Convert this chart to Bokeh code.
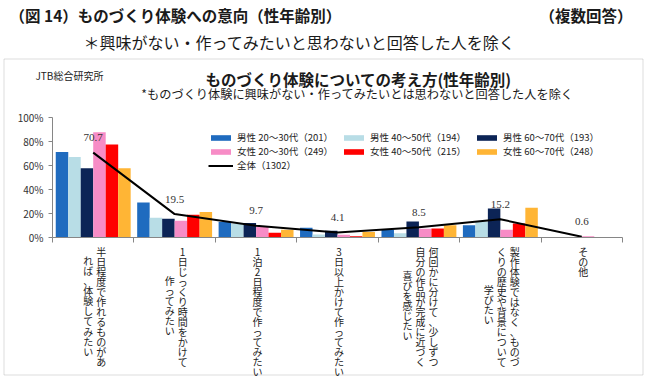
from bokeh.plotting import figure
from bokeh.models import (ColumnDataSource, Range1d, FixedTicker, PrintfTickFormatter,
                          Label, LabelSet, Legend, LegendItem, PolyAnnotation)
from bokeh.transform import dodge
from bokeh.embed import file_html
from bokeh.resources import INLINE
import numpy as np

# ---------------- data ----------------
categories = [
    "半日程度で作れるものがあれば、体験してみたい",
    "1日じっくり時間をかけて作ってみたい",
    "1泊2日程度で作ってみたい",
    "3日以上かけて作ってみたい",
    "何回かに分けて、少しずつ自分の作品が完成に近づく喜びを感じたい",
    "製作体験ではなく、ものづくりの歴史や背景について学びたい",
    "その他",
]
category_columns = [
    ["半日程度で作れるものがあ", "れば、体験してみたい"],
    ["1日じっくり時間をかけて", "作ってみたい"],
    ["1泊2日程度で作ってみたい"],
    ["3日以上かけて作ってみたい"],
    ["何回かに分けて、少しずつ", "自分の作品が完成に近づく", "喜びを感じたい"],
    ["製作体験ではなく、ものづ", "くりの歴史や背景について", "学びたい"],
    ["その他"],
]
series_names = [
    "男性 20～30代（201）", "男性 40～50代（194）", "男性 60～70代（193）",
    "女性 20～30代（249）", "女性 40～50代（215）", "女性 60～70代（248）",
]
series_colors = ["#1F6BBF", "#B8DDE6", "#0C2456", "#F78CC6", "#FF0000", "#FFB535"]
male_20_30 = [71.3, 29.2, 13.0, 8.1, 6.4, 10.3, 0.0]
male_40_50 = [67.1, 16.4, 11.5, 2.5, 3.6, 13.4, 0.0]
male_60_70 = [57.7, 15.6, 12.0, 5.6, 13.4, 24.2, 0.0]
female_20_30 = [87.7, 13.9, 9.0, 2.2, 7.2, 6.4, 1.0]
female_40_50 = [77.4, 18.9, 4.0, 1.1, 7.5, 11.7, 0.0]
female_60_70 = [57.7, 21.2, 6.5, 4.5, 10.3, 24.8, 0.0]
total_name = "全体（1302）"
total = [70.7, 19.5, 9.7, 4.1, 8.5, 15.2, 0.6]
y_ticks = [0, 20, 40, 60, 80, 100]

series_values = [male_20_30, male_40_50, male_60_70, female_20_30, female_40_50, female_60_70]

FONT = "Noto Sans CJK JP"

# ---------------- geometry (page pixels) ----------------
W, H = 648, 378
AX_L, AX_R, AX_T, AX_B = 52, 622, 117, 237   # plotting area of the axes
n = len(categories)
UX = (AX_R - AX_L) / n      # px per category
UY = (AX_B - AX_T) / 100    # px per percent


def xd(px):
    return (px - AX_L) / UX


def yd(py):
    return (AX_B - py) / UY


x_centers = np.arange(n) + 0.5
data = dict(x=x_centers, total=total, total_lbl=[f"{v:.1f}" for v in total])
for i, vals in enumerate(series_values):
    data[f"s{i}"] = vals
src = ColumnDataSource(data)

p = figure(width=W, height=H,
           x_range=Range1d(xd(0), xd(W)), y_range=Range1d(yd(H), yd(0)),
           output_backend="svg", toolbar_location=None,
           min_border=0, min_border_left=0, min_border_right=0,
           min_border_top=0, min_border_bottom=0)
p.outline_line_color = None
p.xgrid.visible = False
p.ygrid.visible = False
p.background_fill_color = "white"
p.border_fill_color = "white"

group_w = 0.92
bw = group_w / len(series_values)
renderers = []
for i, (name, color) in enumerate(zip(series_names, series_colors)):
    off = (i - (len(series_values) - 1) / 2) * bw
    r = p.vbar(x=dodge("x", off, range=p.x_range), top=f"s{i}", width=bw, source=src,
               fill_color=color, line_color=None)
    renderers.append(r)

line_r = p.line(x="x", y="total", source=src, line_color="black", line_width=2)
p.add_layout(LabelSet(x="x", y="total", text="total_lbl", source=src, y_offset=15,
                      text_align="center", text_baseline="middle",
                      text_font=FONT, text_font_size="11px", text_color="#333333"))

# axes, pinned at the data origin
p.xaxis.fixed_location = 0
p.xaxis.bounds = (0, n)
p.xaxis.ticker = FixedTicker(ticks=list(range(n + 1)))
p.xaxis.major_label_overrides = {i: "" for i in range(n + 1)}
p.xaxis.axis_line_color = "#868686"
p.xaxis.major_tick_line_color = "#868686"
p.xaxis.major_tick_out = 5
p.xaxis.major_tick_in = 0
p.xaxis.minor_tick_line_color = None

p.yaxis.fixed_location = 0
p.yaxis.bounds = (0, 100)
p.yaxis.ticker = FixedTicker(ticks=y_ticks)
p.yaxis.formatter = PrintfTickFormatter(format="%d%%")
p.yaxis.axis_line_color = "#868686"
p.yaxis.major_tick_line_color = "#868686"
p.yaxis.major_tick_out = 4
p.yaxis.major_tick_in = 0
p.yaxis.minor_tick_line_color = None
p.yaxis.major_label_text_font = FONT
p.yaxis.major_label_text_font_size = "10px"
p.yaxis.major_label_text_color = "#333333"
p.yaxis.major_label_standoff = 5

# category labels (vertical writing, columns right to left, centred on each other)
LH = 9.7
for i, cols in enumerate(category_columns):
    m = len(cols)
    maxlen = max(len(c) for c in cols)
    for j, col in enumerate(cols):
        off_px = ((m - 1) / 2 - j) * 13 + 1.5
        top = 243 + (maxlen - len(col)) * LH / 2
        p.add_layout(Label(x=x_centers[i] + off_px / UX, y=yd(top), text="\n".join(col),
                           text_align="center", text_baseline="top",
                           text_font=FONT, text_font_size="10px", text_line_height=0.67,
                           text_color="#222222"))

# titles
p.add_layout(Label(x=xd(9), y=yd(14), text="（図 14）ものづくり体験への意向（性年齢別）",
                   text_align="left", text_baseline="middle", text_font=FONT,
                   text_font_size="15.5px", text_font_style="bold", text_color="#1a1a1a"))
p.add_layout(Label(x=xd(632), y=yd(14), text="（複数回答）",
                   text_align="right", text_baseline="middle", text_font=FONT,
                   text_font_size="15.5px", text_font_style="bold", text_color="#1a1a1a"))
p.add_layout(Label(x=xd(83), y=yd(41), text="＊興味がない・作ってみたいと思わないと回答した人を除く",
                   text_align="left", text_baseline="middle", text_font=FONT,
                   text_font_size="16px", text_color="#1a1a1a"))
p.add_layout(Label(x=xd(35), y=yd(75), text="JTB総合研究所",
                   text_align="left", text_baseline="middle", text_font=FONT,
                   text_font_size="10px", text_color="#222222"))
p.add_layout(Label(x=xd(358), y=yd(78), text="ものづくり体験についての考え方(性年齢別)",
                   text_align="center", text_baseline="middle", text_font=FONT,
                   text_font_size="15.5px", text_font_style="bold", text_color="#1a1a1a"))
p.add_layout(Label(x=xd(357), y=yd(93),
                   text="*ものづくり体験に興味がない・作ってみたいとは思わないと回答した人を除く",
                   text_align="center", text_baseline="middle", text_font=FONT,
                   text_font_size="12.2px", text_color="#1a1a1a"))

# frame box around chart area
bx = [xd(3.5), xd(642.5), xd(642.5), xd(3.5)]
by = [yd(58.5), yd(58.5), yd(374.5), yd(374.5)]
p.add_layout(PolyAnnotation(xs=bx, ys=by, fill_alpha=0, line_color="#8c8c8c", line_width=1))

# legend
items = [LegendItem(label=nm, renderers=[r]) for nm, r in zip(series_names, renderers)]
items.append(LegendItem(label=total_name, renderers=[line_r]))
legend = Legend(items=items, orientation="horizontal", ncols=3,
                location=(208, H - 172),
                glyph_width=25, glyph_height=7, label_height=13, label_standoff=4,
                label_width=104, spacing=0, padding=0, margin=0,
                label_text_font=FONT, label_text_font_size="9.5px", label_text_color="#222222",
                border_line_alpha=0, background_fill_alpha=0)
p.add_layout(legend)

open("out.html", "w").write(file_html(p, INLINE))
